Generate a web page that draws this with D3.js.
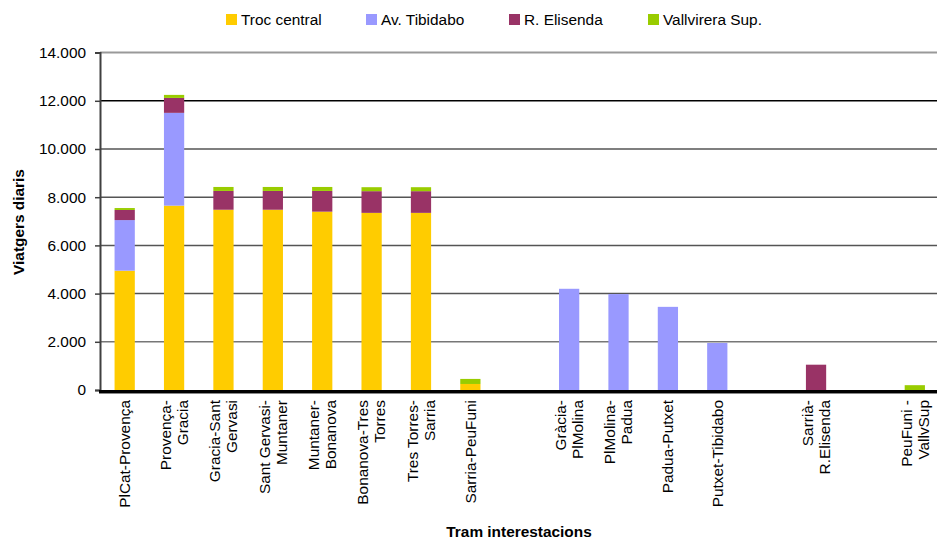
<!DOCTYPE html>
<html><head><meta charset="utf-8">
<script src="https://cdn.jsdelivr.net/npm/d3@7"></script>
<style>body{margin:0;background:#fff}svg{display:block}text{font-family:"Liberation Sans",Arial,sans-serif;fill:#000}</style>
</head><body><svg id="c" width="937" height="539"></svg>
<script>
const categories = ["PlCat-Provença","Provença-|Gracia","Gracia-Sant|Gervasi","Sant Gervasi-|Muntaner","Muntaner-|Bonanova","Bonanova-Tres|Torres","Tres Torres-|Sarria","Sarria-PeuFuni","","Gràcia-|PlMolina","PlMolina-|Padua","Padua-Putxet","Putxet-Tibidabo","","Sarrià-|R.Elisenda","","PeuFuni -|VallvSup"];
const seriesNames = ["Troc central","Av. Tibidabo","R. Elisenda","Vallvirera Sup."];
const seriesColors = ["#FFCC00","#9999FF","#993366","#99CC00"];
const trocCentral  = [4950,7650,7480,7480,7400,7350,7350,250,0,0,0,0,0,0,0,0,0];
const avTibidabo   = [2100,3850,0,0,0,0,0,0,0,4200,3980,3450,1950,0,0,0,0];
const rElisenda    = [420,620,780,780,860,900,900,0,0,0,0,0,0,0,1050,0,0];
const vallvirera   = [80,125,165,165,165,165,165,210,0,0,0,0,0,0,0,0,200];
const yTicks = [0,2000,4000,6000,8000,10000,12000,14000];

const svg = d3.select("#c");
const FS = 15.4;
const x = d3.scaleBand().domain(d3.range(categories.length)).range([100,939.5]).paddingInner(0.59).paddingOuter(0.295);
const y = d3.scaleLinear().domain([0,14000]).range([390,52.6]);
const fmt = d3.formatLocale({decimal:",",thousands:".",grouping:[3],currency:["",""]}).format(",");

// gridlines
svg.append("g").selectAll("line").data(yTicks.filter(d=>d>0)).join("line")
  .attr("x1",100).attr("x2",937).attr("y1",d=>y(d)).attr("y2",d=>y(d))
  .attr("stroke",d=>d===12000?"#000":(d===14000?"#999":(d===2000?"#777":"#555")))
  .attr("stroke-width",d=>d===14000?2:1.5);

// stacked bars
const rows = categories.map((c,i)=>({i, s0:trocCentral[i], s1:avTibidabo[i], s2:rElisenda[i], s3:vallvirera[i]}));
const stack = d3.stack().keys(["s0","s1","s2","s3"])(rows);
svg.append("g").selectAll("g").data(stack).join("g").attr("fill",(d,k)=>seriesColors[k])
  .selectAll("rect").data(d=>d.filter(p=>p[1]-p[0]>0)).join("rect")
  .attr("x",d=>x(d.data.i)).attr("width",x.bandwidth())
  .attr("y",d=>y(d[1])).attr("height",d=>y(d[0])-y(d[1]));

// y axis
const ya = svg.append("g").attr("transform","translate(100,0)")
  .call(d3.axisLeft(y).tickValues(yTicks).tickFormat(fmt).tickSize(5).tickPadding(9));
ya.select(".domain").attr("stroke","#404040").attr("stroke-width",2);
ya.selectAll(".tick line").attr("stroke","#404040").attr("stroke-width",1.5);
ya.selectAll("text").attr("font-size",FS).attr("font-family","Liberation Sans, Arial, sans-serif").attr("fill","#000");

// baseline
svg.append("line").attr("x1",99).attr("x2",937).attr("y1",y(0)+1.5).attr("y2",y(0)+1.5).attr("stroke","#000").attr("stroke-width",3);
svg.append("line").attr("x1",99).attr("x2",937).attr("y1",y(0)+3.5).attr("y2",y(0)+3.5).attr("stroke","#888").attr("stroke-width",1);

// x labels
const xl = svg.append("g");
categories.forEach((c,i)=>{
  if(!c) return;
  const lines = c.split("|");
  const cx = x(i)+x.bandwidth()/2;
  const n = lines.length, lh = 17;
  lines.forEach((t,j)=>{
    const off = (j-(n-1)/2)*lh;
    xl.append("text").attr("transform",`translate(${cx+off},400) rotate(-90)`)
      .attr("text-anchor","end").attr("dy","0.35em").attr("font-size",FS).text(t);
  });
});

// axis titles
svg.append("text").attr("transform","translate(24,222) rotate(-90)").attr("text-anchor","middle")
  .attr("font-size",FS).attr("font-weight","bold").text("Viatgers diaris");
svg.append("text").attr("x",519).attr("y",537).attr("text-anchor","middle")
  .attr("font-size",FS).attr("font-weight","bold").text("Tram interestacions");

// legend
const legX = [226,366,509,648];
const lg = svg.append("g");
seriesNames.forEach((n,k)=>{
  lg.append("rect").attr("x",legX[k]).attr("y",14).attr("width",11).attr("height",11).attr("fill",seriesColors[k]);
  lg.append("text").attr("x",legX[k]+15).attr("y",25).attr("font-size",FS).text(n);
});
</script></body></html>
